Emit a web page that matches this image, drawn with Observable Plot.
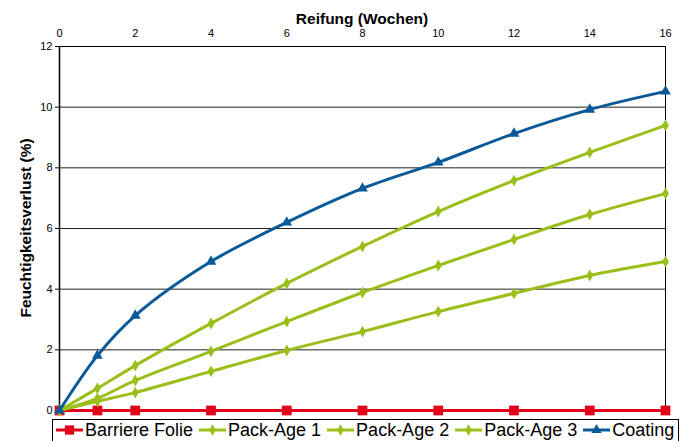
<!DOCTYPE html>
<html>
<head>
<meta charset="utf-8">
<script src="https://cdn.jsdelivr.net/npm/d3@7"></script>
<script src="https://cdn.jsdelivr.net/npm/@observablehq/plot@0.6"></script>
<style>
  body { margin: 0; background: white; font-family: "Liberation Sans", Arial, sans-serif; }
  #wrap { position: relative; width: 687px; height: 441px; overflow: hidden; }
  #legend { position: absolute; left: 52px; top: 419px; width: 627px; height: 40px; border: 1px solid #000; box-sizing: border-box; background: white; display: flex; align-items: flex-start; padding-left: 3px; font-size: 18px; line-height: 20px; color: #000; }
  .item { display: flex; align-items: center; margin-right: 6px; white-space: nowrap; }
  .item svg { display: block; margin-right: 2px; }
</style>
</head>
<body>
<div id="wrap"></div>
<script>
const weeks = [0, 1, 2, 4, 6, 8, 10, 12, 14, 16];
const barriereFolie = [0, 0, 0, 0, 0, 0, 0, 0, 0, 0];
const packAge1 = [0, 0.30, 0.59, 1.29, 1.98, 2.60, 3.26, 3.86, 4.45, 4.91];
const packAge2 = [0, 0.40, 0.99, 1.95, 2.93, 3.89, 4.78, 5.64, 6.46, 7.15];
const packAge3 = [0, 0.73, 1.48, 2.87, 4.19, 5.41, 6.56, 7.58, 8.51, 9.40];
const coating = [0, 1.81, 3.13, 4.91, 6.20, 7.32, 8.18, 9.13, 9.92, 10.52];
const xTicks = [0, 2, 4, 6, 8, 10, 12, 14, 16];
const yTicks = [0, 2, 4, 6, 8, 10, 12];
const xTitle = "Reifung (Wochen)";
const yTitle = "Feuchtigkeitsverlust (%)";

const seriesDefs = [
  {name: "Barriere Folie", values: barriereFolie, color: "#e2001a", symbol: "square", r: 5.5},
  {name: "Pack-Age 1", values: packAge1, color: "#9bbf1a", symbol: "diamond", r: 3.6},
  {name: "Pack-Age 2", values: packAge2, color: "#9bbf1a", symbol: "diamond", r: 3.6},
  {name: "Pack-Age 3", values: packAge3, color: "#9bbf1a", symbol: "diamond", r: 3.6},
  {name: "Coating", values: coating, color: "#0a5a9a", symbol: "triangle", r: 4}
];

const marks = [
  Plot.gridY(yTicks, {stroke: "#222", strokeOpacity: 1, strokeWidth: 1}),
  Plot.ruleY([12], {stroke: "#000"}),
  Plot.ruleX([16], {stroke: "#000"}),
  Plot.ruleX([0], {stroke: "#000", strokeWidth: 1.5}),
  Plot.axisY(yTicks, {tickSize: 4, tickPadding: 3, fontSize: 11, label: null}),
  Plot.axisX(xTicks, {anchor: "top", tickSize: 0, tickPadding: 10, fontSize: 11, label: null})
];
for (const s of seriesDefs) {
  const data = weeks.map((w, i) => ({w, v: s.values[i]}));
  marks.push(Plot.line(data, {x: "w", y: "v", stroke: s.color, strokeWidth: 3, curve: "catmull-rom"}));
  marks.push(Plot.dot(data, {x: "w", y: "v", fill: s.color, stroke: "none", symbol: s.symbol, r: s.r}));
}

const chart = Plot.plot({
  width: 687,
  height: 441,
  marginLeft: 59,
  marginRight: 22,
  marginTop: 46,
  marginBottom: 31,
  style: {fontFamily: "Liberation Sans, Arial, sans-serif", fontSize: "11px", color: "#000", overflow: "visible"},
  x: {domain: [0, 16]},
  y: {domain: [0, 12]},
  marks
});
const svg = d3.select(chart);
svg.append("text").attr("x", 362).attr("y", 24).attr("text-anchor", "middle")
  .attr("font-weight", "bold").attr("font-size", 15.5).attr("fill", "#000").text(xTitle);
svg.append("text").attr("transform", "translate(31,228) rotate(-90)").attr("text-anchor", "middle")
  .attr("font-weight", "bold").attr("font-size", 15.5).attr("fill", "#000").text(yTitle);

const wrap = document.getElementById("wrap");
wrap.appendChild(chart);

const legend = document.createElement("div");
legend.id = "legend";
const symMap = {square: d3.symbolSquare, diamond: d3.symbolDiamond, triangle: d3.symbolTriangle};
for (const s of seriesDefs) {
  const item = document.createElement("div");
  item.className = "item";
  const sw = d3.create("svg").attr("width", 27).attr("height", 20);
  sw.append("line").attr("x1", 0).attr("x2", 27).attr("y1", 10).attr("y2", 10).attr("stroke", s.color).attr("stroke-width", 3);
  sw.append("path").attr("transform", "translate(13.5,10)")
    .attr("d", d3.symbol(symMap[s.symbol], Math.PI * s.r * s.r * 0.9)()).attr("fill", s.color);
  item.appendChild(sw.node());
  const t = document.createElement("span");
  t.textContent = s.name;
  item.appendChild(t);
  legend.appendChild(item);
}
wrap.appendChild(legend);
</script>
</body>
</html>
